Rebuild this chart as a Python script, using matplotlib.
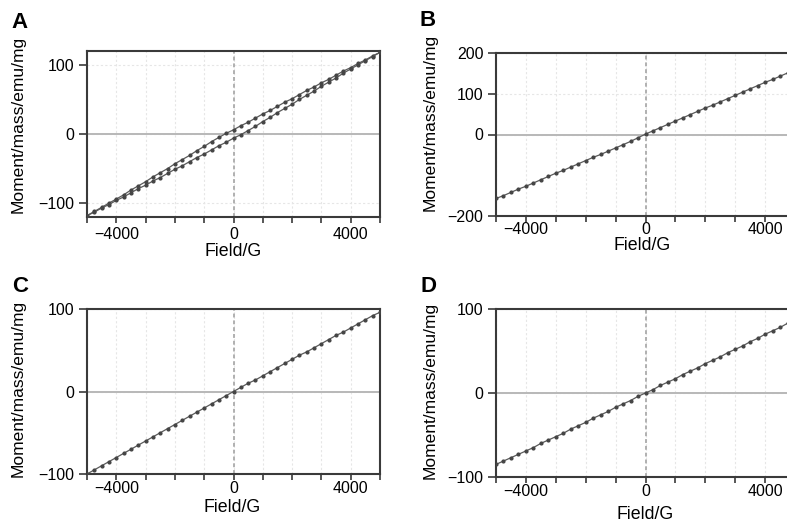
import matplotlib
matplotlib.use("Agg")
import matplotlib.pyplot as plt
from matplotlib.ticker import MultipleLocator, FixedLocator

plt.rcParams['font.family'] = ['Liberation Sans', 'DejaVu Sans']

field = [-5000, -4750, -4500, -4250, -4000, -3750, -3500, -3250, -3000, -2750,
         -2500, -2250, -2000, -1750, -1500, -1250, -1000, -750, -500, -250,
         0, 250, 500, 750, 1000, 1250, 1500, 1750, 2000, 2250,
         2500, 2750, 3000, 3250, 3500, 3750, 4000, 4250, 4500, 4750, 5000]

# Panel A: hysteresis loop (two branches)
a_upper = [-118, -112, -106, -100, -94, -88, -81, -75, -69, -62,
           -56, -50, -43, -37, -31, -24, -18, -11, -5, 1,
           6, 12, 17, 23, 29, 34, 40, 46, 51, 57,
           63, 68, 74, 79, 85, 91, 96, 102, 107, 113, 118]
a_lower = [-118, -113, -107, -102, -96, -91, -85, -79, -74, -68,
           -63, -57, -51, -46, -40, -34, -29, -23, -17, -12,
           -6, -1, 5, 11, 18, 24, 31, 37, 43, 50,
           56, 62, 69, 75, 81, 88, 94, 100, 106, 112, 118]
# Panel B
b_vals = [-157, -150, -142, -134, -127, -119, -111, -103, -95, -88,
          -80, -72, -64, -56, -49, -41, -33, -25, -17, -8,
          1, 9, 17, 25, 33, 41, 49, 57, 65, 72,
          80, 88, 96, 104, 112, 120, 128, 135, 143, 151, 158]
# Panel C
c_vals = [-100, -95, -90, -85, -80, -75, -70, -65, -60, -55,
          -50, -45, -40, -35, -30, -25, -20, -15, -10, -5,
          0, 5, 10, 14, 19, 24, 29, 34, 39, 44,
          48, 53, 58, 63, 68, 72, 77, 82, 87, 92, 96]
# Panel D
d_vals = [-85, -81, -77, -73, -69, -65, -60, -56, -52, -48,
          -43, -39, -35, -30, -26, -22, -17, -13, -9, -4,
          0, 4, 9, 13, 17, 22, 26, 30, 35, 39,
          43, 48, 52, 56, 61, 65, 70, 74, 78, 83, 87]

xticks = [-4000, 0, 4000]
panel_letters = ["A", "B", "C", "D"]
ylabel = "Moment/mass/emu/mg"
xlabel = "Field/G"

W, H = 787, 523
fig = plt.figure(figsize=(W / 100, H / 100), dpi=100)


def rect(l, r, t, b):
    return [l / W, 1 - b / H, (r - l) / W, (b - t) / H]


specs = [
    dict(rect=rect(87, 380, 51, 217), ylim=(-120, 120), yticks=[-100, 0, 100],
         ygrid=25, ylab=(-0.2355, 0.56), xlab=(0.498, -0.21), letter=(20, 23),
         xpad=3.5),
    dict(rect=rect(496, 795, 53, 216), ylim=(-200, 200), yticks=[-200, 0, 100, 200],
         ygrid=50, ylab=(-0.22, 0.575), xlab=(0.49, -0.18), letter=(428, 21),
         xpad=0.3),
    dict(rect=rect(87, 380, 309, 474), ylim=(-100, 100), yticks=[-100, 0, 100],
         ygrid=20, ylab=(-0.2355, 0.52), xlab=(0.495, -0.206), letter=(20, 287),
         xpad=0.8),
    dict(rect=rect(496, 795, 309, 477), ylim=(-100, 100), yticks=[-100, 0, 100],
         ygrid=20, ylab=(-0.22, 0.515), xlab=(0.498, -0.222), letter=(428, 286),
         xpad=0.8),
]

series = [[a_upper, a_lower], [b_vals], [c_vals], [d_vals]]
spine_c = "#3a3a3a"
line_c = "#5a5a5a"

for spec, ser, letter in zip(specs, series, panel_letters):
    ax = fig.add_axes(spec["rect"])
    ax.set_xlim(-5000, 5000)
    ax.set_ylim(*spec["ylim"])
    # light grid
    ax.xaxis.set_minor_locator(MultipleLocator(1000))
    ax.yaxis.set_minor_locator(MultipleLocator(spec["ygrid"]))
    ax.grid(which="both", color="#e6e6e6", lw=0.8, ls=(0, (2, 2)))
    ax.set_axisbelow(True)
    # zero lines
    ax.axhline(0, color="#b8b8b8", lw=1.4, zorder=1)
    ax.axvline(0, color="#b0b0b0", lw=1.4, ls=(0, (2, 1.5)), zorder=1)
    for ys in ser:
        ax.plot(field, ys, color=line_c, lw=0.9, marker="o", ms=2.0,
                mfc="#454545", mec="#454545", zorder=3)
    ax.set_xticks(xticks)
    ax.set_yticks(spec["yticks"])
    ax.yaxis.set_minor_locator(FixedLocator([]))
    ax.tick_params(axis="x", which="major", length=4, width=1.2, pad=spec["xpad"],
                   labelsize=11.5, color=spine_c, direction="out")
    ax.tick_params(axis="x", which="minor", length=4, width=1.2, color=spine_c,
                   direction="out")
    ax.tick_params(axis="y", which="major", length=6, width=1.2, pad=3,
                   labelsize=11.5, color=spine_c, direction="out")
    for s in ax.spines.values():
        s.set_color(spine_c)
        s.set_linewidth(1.5)
    ax.set_ylabel(ylabel, fontsize=12.5)
    ax.yaxis.set_label_coords(*spec["ylab"])
    ax.set_xlabel(xlabel, fontsize=12.8)
    ax.xaxis.set_label_coords(*spec["xlab"])
    ax.xaxis.label.set_va("center")
    ax.yaxis.label.set_va("center")
    lx, ly = spec["letter"]
    fig.text(lx / W, 1 - ly / H, letter, fontsize=16, fontweight="bold",
             ha="center", va="center")

fig.savefig("out.png", dpi=100)
